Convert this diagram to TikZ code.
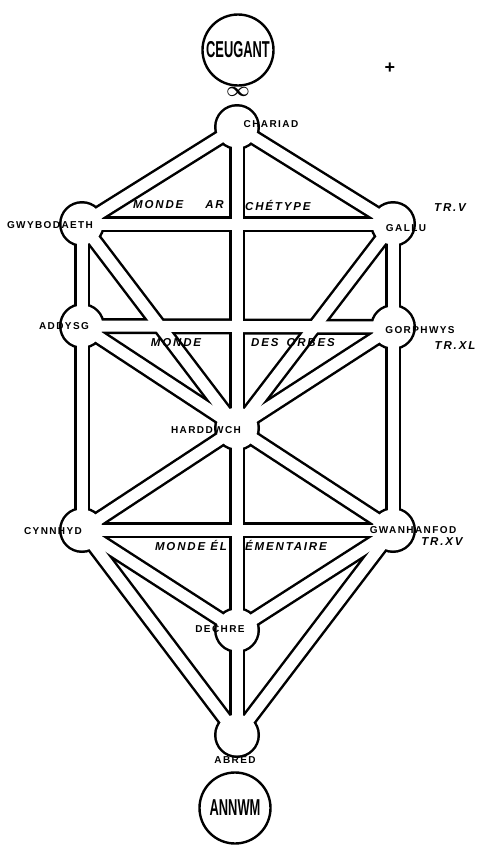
\documentclass[tikz,border=0pt]{standalone}
\usepackage{amsmath}
\usepackage{fontspec}
\setmainfont{Liberation Sans}
\newfontfamily\lblfont[LetterSpace=14]{Liberation Sans}
\newfontfamily\mondefont[LetterSpace=16]{Liberation Sans}
\newfontfamily\realmfont[FakeStretch=0.56]{Liberation Sans}
\usetikzlibrary{positioning}
\tikzset{
  chanout/.style={line width=16pt, black},
  chanin/.style={line width=11pt, white},
  lbl/.style={font=\lblfont\bfseries\fontsize{10}{11}\selectfont, inner sep=0pt},
  monde/.style={font=\mondefont\bfseries\itshape\fontsize{11.5}{13}\selectfont, inner sep=0pt},
  realm/.style={draw, line width=2.4pt, circle, minimum size=71pt, inner sep=0pt,
                font=\realmfont\bfseries\fontsize{23}{25}\selectfont},
}
\begin{document}
\begin{tikzpicture}[x=1pt,y=-1pt]
  \useasboundingbox (0,0) rectangle (481,846);
  % the ten stations of the tree
  \coordinate (chariad) at (237,127);
  \coordinate (gwybod) at (82,224);
  \coordinate (gallu) at (393,224);
  \coordinate (addysg) at (82,326);
  \coordinate (gorph) at (393,327);
  \coordinate (hardd) at (237,428);
  \coordinate (cynn) at (82,530);
  \coordinate (gwan) at (393,530);
  \coordinate (dechre) at (237,630);
  \coordinate (abred) at (237,735);
  % channels: black pass, then white pass
  \foreach \lay/\rad in {chanout/23,chanin/20.5}{
    \foreach \a/\b in {chariad/gwybod,chariad/gallu,chariad/hardd,gwybod/gallu,
        gwybod/addysg,gallu/gorph,gwybod/hardd,gallu/hardd,addysg/gorph,
        addysg/hardd,gorph/hardd,addysg/cynn,gorph/gwan,hardd/cynn,hardd/gwan,
        hardd/dechre,cynn/gwan,cynn/dechre,gwan/dechre,cynn/abred,gwan/abred,
        dechre/abred}
      \draw[\lay] (\a) -- (\b);
    \foreach \h in {chariad,gwybod,gallu,addysg,gorph,hardd,cynn,gwan,dechre,abred}
      \fill[\lay] (\h) circle (\rad pt);
  }
  % names
  \node[lbl] (chariadlbl) at (271,124) {CHARIAD};
  \node[lbl] (gwybodlbl) at (50,225) {GWYBODAETH};
  \node[lbl] (gallulbl) at (406,228) {GALLU};
  \node[lbl] (addysglbl) at (64,326) {ADDYSG};
  \node[lbl] (gorphlbl) at (420,330) {GORPHWYS};
  \node[lbl] (harddlbl) at (206,430) {HARDDWCH};
  \node[lbl] (cynnlbl) at (53,531) {CYNNHYD};
  \node[lbl] (gwanlbl) at (413,530) {GWANHANFOD};
  \node[lbl] (dechrelbl) at (220,629) {DECHRE};
  \node[lbl] (abredlbl) at (235,760) {ABRED};
  \node[monde] (trv) at (450,208) {TR.V};
  \node[monde] (trxl) at (455,346) {TR.XL};
  \node[monde] (trxv) at (442,542) {TR.XV};
  % worlds
  \node[monde,anchor=east] (arch1) at (224,205) {MONDE\hspace{22pt}AR};
  \node[monde,anchor=west] (arch2) at (245,205) {CHÉTYPE};
  \node[monde] (orb1) at (176,343) {MONDE};
  \node[monde,anchor=west] (orb2) at (251,343) {DES\hspace{8pt}ORBES};
  \node[monde,anchor=east] (elem1) at (227,545) {MONDE ÉL};
  \node[monde,anchor=west] (elem2) at (245,545) {ÉMENTAIRE};
  % outer circles
  \node[realm] (ceugant) at (238,50) {CEUGANT};
  \node[realm] (annwm) at (235,808) {ANNWM};
  \node (infty) at (238,92) {\fontsize{22}{22}\selectfont$\boldsymbol{\infty}$};
  \node (plus) at (390,68) {\bfseries\fontsize{18}{18}\selectfont +};
\end{tikzpicture}
\end{document}
